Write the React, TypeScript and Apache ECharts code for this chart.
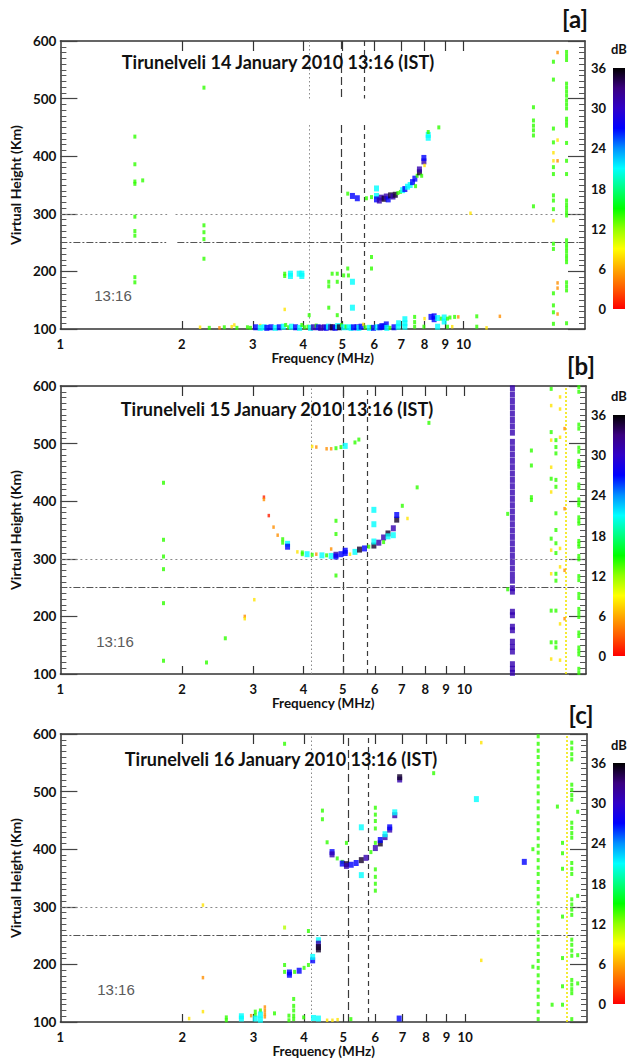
import React, { useEffect, useRef } from 'react';
import * as echarts from 'echarts';

type Pt = [number, number, number];

// dB levels used for the echo colours
const R = 1, O = 5, Y = 8, YG = 11, G = 14, C = 21, B = 27, P = 31, K = 35;

const col = (f: number, db: number, hs: number[]): Pt[] => hs.map((h) => [f, h, db] as Pt);

// ---------- tick labels / scales ----------
const freqLabels = [1, 2, 3, 4, 5, 6, 7, 8, 9, 10];
const freqTickMarks = [2, 3, 4, 5, 6, 7, 8, 9, 10];
const freqMax = 20;
const heightMin = 100;
const heightMax = 600;
const dbMax = 36;
const dbColors = ['#ff0000', '#ff5a00', '#ffaa00', '#ffff00', '#90ff00', '#00ff00', '#00ff80', '#00ffff', '#0090ff', '#0000ff', '#3000c8', '#3a0080', '#000000'];

const titles = [
  'Tirunelveli 14 January 2010 13:16 (IST)',
  'Tirunelveli 15 January 2010 13:16 (IST)',
  'Tirunelveli 16 January 2010 13:16 (IST)',
];
const letters = ['[a]', '[b]', '[c]'];
const timeLabel = '13:16';

// vertical reference frequencies (dotted, long dash, short dash)
const aRefFreq = [4.14, 4.97, 5.66];
const bRefFreq = [4.18, 5.04, 5.71];
const cRefFreq = [4.2, 5.07, 5.76];
const refHeights = [300, 250];
const bYellowFreq = 17.7;
const cYellowFreq = 17.93;

// ---------- panel a ----------
const aCols: Pt[] = [
  ...col(1.53, G, [434, 386, 356, 352, 295, 270, 262, 190, 181]),
  [1.6, 358, G],
  ...col(2.27, G, [519, 280, 268, 256, 222]),
];
const aLowBand: Pt[] = [
  [2.22, 103, Y], [2.34, 102, G], [2.48, 102, O], [2.55, 103, G], [2.66, 104, Y], [2.7, 107, Y], [2.74, 102, G], [2.91, 103, G], [2.96, 102, G], [3.05, 103, B],
  [3.13, 106, Y], [3.13, 102, C], [3.2, 103, C], [3.25, 102, B], [3.33, 103, B], [3.41, 102, C], [3.49, 103, B], [3.57, 104, C], [3.62, 107, G], [3.68, 103, G],
  [3.74, 104, C], [3.83, 103, B], [3.92, 102, C], [3.97, 107, G], [4.03, 103, G], [4.11, 104, G], [4.17, 102, C], [4.24, 103, P], [4.31, 106, G], [4.36, 103, B],
  [4.42, 102, P], [4.51, 103, P], [4.56, 102, B], [4.62, 104, C], [4.68, 103, P], [4.73, 103, K], [4.8, 102, B], [4.87, 105, C], [4.92, 103, K], [4.98, 107, G],
  [5.04, 103, C], [5.11, 104, G], [5.19, 103, C], [5.26, 102, C], [5.33, 103, B], [5.44, 103, B], [5.5, 102, C], [5.57, 104, B], [5.64, 108, Y], [5.7, 103, G],
  [5.84, 102, C], [5.9, 103, G], [5.98, 102, B], [6.1, 103, C], [6.2, 103, B], [6.27, 105, B], [6.35, 104, B], [6.43, 108, B], [6.45, 102, C], [6.57, 102, G],
  [6.72, 103, B], [6.88, 104, C], [6.9, 110, C], [7.15, 104, C], [7.15, 110, C], [7.15, 117, C], [7.56, 104, G], [7.56, 112, G], [7.56, 121, G], [7.97, 104, G],
  [8.0, 118, Y], [8.3, 121, B], [8.45, 122, B], [8.45, 117, B], [8.62, 119, C], [8.62, 104, C], [8.8, 118, G], [8.95, 120, C], [8.95, 113, C], [9.12, 118, G],
  [9.12, 104, G], [9.25, 120, G], [9.37, 104, Y], [9.5, 121, G], [9.7, 121, O], [10.78, 122, G], [10.78, 104, G], [11.4, 102, Y], [12.3, 122, O],
];
const aEregion: Pt[] = [
  [3.6, 196, G], [3.6, 192, G], [3.72, 196, C], [3.72, 192, C], [3.91, 196, C], [3.97, 196, C], [3.97, 192, C], [4.72, 196, G], [4.86, 196, G], [5.04, 193, G],
  [5.16, 205, G], [5.18, 193, G], [4.63, 182, G], [4.63, 174, G], [4.86, 182, G], [5.3, 182, C], [4.63, 137, G], [5.3, 137, C], [3.6, 134, Y], [5.91, 225, G],
  [5.91, 205, G], [4.14, 124, G], [4.86, 124, G],
];
const aFtrace: Pt[] = [
  [5.16, 335, G], [5.3, 331, B], [5.45, 327, B], [5.74, 327, G], [5.91, 329, G], [6.08, 344, C], [6.08, 331, C], [6.08, 325, B], [6.18, 323, P], [6.25, 328, P],
  [6.35, 326, K], [6.43, 330, P], [6.5, 325, B], [6.59, 332, K], [6.68, 330, P], [6.77, 333, K], [6.87, 336, G], [6.97, 338, G], [7.06, 341, C], [7.15, 343, B],
  [7.26, 347, C], [7.37, 350, C], [7.47, 355, B], [7.57, 361, B], [7.6, 348, G], [7.67, 366, G], [7.77, 372, K], [7.77, 377, P], [7.87, 366, G], [7.97, 391, P],
  [7.97, 397, B], [8.0, 384, Y], [8.17, 432, C], [8.17, 437, C], [8.17, 442, G], [8.68, 450, G],
];
const aRight: Pt[] = [
  ...col(14.9, G, [485, 462, 453, 445, 436, 313]),
  ...col(16.7, G, [564, 533, 448, 424, 381, 369, 332, 323, 308, 248, 239, 162, 141, 129, 109]),
  ...col(16.7, Y, [406, 392, 288]),
  ...col(17.1, O, [580, 392, 180, 171, 126]),
  [17.1, 428, Y],
  ...col(18.0, G, [581, 574, 567, 526, 519, 512, 505, 497, 490, 483, 465, 459, 453, 423, 392, 369, 323, 316, 310, 303, 297, 254, 247, 241, 235, 228, 222, 216, 181, 174, 167, 110]),
  [10.4, 301, Y],
];

// ---------- panel b ----------
const bLow: Pt[] = [
  ...col(1.8, G, [432, 333, 304, 282, 223, 123]),
  [2.3, 120, G], [2.56, 162, G], [2.86, 200, O], [2.86, 196, Y], [3.02, 229, Y], [3.19, 407, R], [3.19, 403, O], [3.28, 375, R],
];
const bTrace: Pt[] = [
  [3.37, 355, O], [3.45, 341, O], [3.55, 334, G], [3.55, 328, G], [3.65, 326, C], [3.65, 321, B], [3.86, 312, Y], [3.97, 311, G], [3.97, 308, G], [4.08, 308, C],
  [4.2, 307, G], [4.3, 308, O], [4.44, 306, C], [4.56, 306, G], [4.68, 317, O], [4.68, 305, C], [4.81, 307, P], [4.81, 304, B], [4.95, 308, B], [5.07, 310, B],
  [5.07, 314, B], [5.21, 308, Y], [5.36, 312, C], [5.5, 316, K], [5.66, 318, B], [5.8, 321, G], [5.97, 323, K], [5.97, 330, C], [6.14, 328, P], [6.31, 337, P],
  [6.31, 329, G], [6.47, 344, K], [6.47, 339, C], [6.67, 353, P], [6.67, 341, C], [6.8, 368, K], [6.8, 376, B], [7.02, 392, G], [7.23, 370, Y], [7.64, 424, G],
  [5.97, 385, C], [5.97, 360, C], [4.81, 366, G], [4.81, 343, G], [4.81, 271, G],
];
const bUpper: Pt[] = [
  [4.2, 495, Y], [4.3, 494, O], [4.56, 491, O], [4.68, 491, O], [4.81, 492, G], [4.95, 494, G], [5.07, 496, C], [5.36, 502, G], [5.48, 507, G], [8.17, 536, G],
];
const bRight: Pt[] = [
  ...col(13.15, P, [596, 585, 574, 563, 552, 541, 530, 519, 503, 492, 481, 470, 459, 448, 437, 426, 415, 404, 393, 382, 371, 360, 349, 338, 327, 316, 305, 294, 283, 272, 262, 249, 243, 208, 202, 182, 176, 156, 147, 139, 117, 109, 102]),
  [12.8, 378, G], [12.8, 247, G],
  ...col(14.65, G, [488, 462, 407, 402]),
  ...col(16.4, G, [595, 520, 439, 335, 210, 155]),
  ...col(16.4, Y, [566, 506, 459, 416, 315, 274, 126]),
  ...col(16.85, G, [506, 494, 483, 437, 425, 379, 350, 327, 310, 274, 262, 210, 155, 146]),
  ...col(17.25, Y, [581, 560, 511, 318, 286, 187, 124]),
  ...col(17.7, O, [526, 387, 280, 196]),
  ...col(19.2, G, [598, 590, 533, 526, 493, 486, 470, 465, 460, 429, 423, 403, 397, 393, 372, 366, 361, 331, 326, 321, 305, 299, 270, 263, 239, 232, 213, 206, 199, 172, 166, 146, 140, 134, 109, 102]),
];

// ---------- panel c ----------
const cLow: Pt[] = [
  [2.08, 106, Y], [2.25, 118, Y], [2.25, 177, O], [2.25, 303, Y], [2.57, 103, G], [2.57, 108, G], [2.8, 110, C], [2.8, 106, C], [2.96, 111, O], [3.03, 118, G],
  [3.03, 112, G], [3.03, 106, C], [3.12, 120, G], [3.12, 113, C], [3.12, 104, C], [3.2, 126, O], [3.2, 120, O], [3.2, 114, O], [3.2, 109, O], [3.38, 115, G],
  [3.77, 140, G], [3.77, 128, G], [3.77, 120, G], [3.77, 111, G], [3.77, 105, G], [3.67, 111, G], [3.67, 103, G], [3.99, 108, G], [4.22, 107, C], [4.34, 106, C],
  [4.56, 103, Y], [4.7, 103, Y], [4.84, 104, Y], [5.22, 105, G], [6.87, 106, B],
];
const cEregion: Pt[] = [
  [3.58, 583, G], [3.58, 264, YG], [4.1, 258, G], [3.58, 199, G], [3.58, 187, G], [3.68, 182, B], [3.68, 186, B], [3.79, 187, G], [3.89, 189, B], [4.0, 194, G],
  [4.1, 199, G], [4.2, 207, B], [4.2, 213, C], [4.34, 242, C], [4.34, 236, P], [4.34, 230, K], [4.34, 226, K],
];
const cFtrace: Pt[] = [
  [4.44, 467, G], [4.44, 452, G], [4.56, 412, G], [4.69, 395, B], [4.69, 391, P], [4.83, 384, G], [4.97, 378, G], [4.97, 375, B], [5.09, 374, K], [5.09, 371, P],
  [5.09, 411, G], [5.23, 373, B], [5.38, 376, B], [5.54, 381, K], [5.54, 438, C], [5.54, 355, C], [5.69, 385, P], [5.85, 395, G], [6.0, 402, P], [6.0, 411, G],
  [6.17, 410, K], [6.17, 416, B], [6.34, 421, P], [6.34, 426, C], [6.51, 434, P], [6.51, 438, B], [6.7, 459, P], [6.7, 464, C], [6.89, 521, P], [6.89, 525, K],
  ...col(6.0, G, [472, 460, 449, 436, 365, 352, 340, 328]),
  [10.66, 487, C], [10.96, 585, Y], [10.96, 207, Y], [8.36, 532, G],
];
const cRight: Pt[] = [
  [14.0, 378, B], [14.7, 400, G], [14.7, 196, G],
  ...col(15.15, G, [596, 583, 571, 560, 548, 535, 523, 509, 497, 483, 471, 457, 445, 433, 419, 406, 394, 381, 368, 357, 343, 331, 318, 306, 292, 280, 268, 256, 243, 231, 218, 206, 194, 181, 169, 156, 144, 131, 118, 105]),
  [16.4, 130, G], [16.9, 474, G],
  ...col(17.4, G, [411, 393, 366, 283, 211, 162, 130]),
  ...col(18.34, G, [585, 575, 565, 556, 512, 503, 494, 486, 446, 437, 428, 420, 376, 366, 357, 313, 304, 295, 286, 243, 234, 224, 215, 173, 165, 157, 150, 105]),
  ...col(18.97, G, [465, 319, 216, 167]),
];

const panels = [
  { pts: [...aCols, ...aLowBand, ...aEregion, ...aFtrace, ...aRight], ref: aRefFreq, yellow: null as number | null },
  { pts: [...bLow, ...bTrace, ...bUpper, ...bRight], ref: bRefFreq, yellow: bYellowFreq },
  { pts: [...cLow, ...cEregion, ...cFtrace, ...cRight], ref: cRefFreq, yellow: cYellowFreq },
];

// ---------- layout ----------
const gridBoxes = [
  { top: 41, height: 288, width: 535 },
  { top: 386, height: 288, width: 536 },
  { top: 734, height: 288, width: 537 },
];
const cbTops = [68, 415, 763];
const titlePos = [[278, 62], [277, 409], [281, 759]];
const timePos = [[113, 295], [115, 641], [116, 989]];
const letterPos = [[575, 18], [581, 365], [581, 714]];
const dbPos = [[619, 49], [619, 396], [619, 745]];

const L = Math.log10;
const FONT = 'Lato';

function symSize(v: number[]) {
  const d = v[2];
  if (d >= 19) return [5, 6];
  if (d >= 10) return [3, 4];
  return [2.5, 3.5];
}

function refMarkLines(i: number, ref: number[], yellow: number | null) {
  const dotted = { type: [1.5, 2.5], color: '#8a8a8a', width: 1 };
  const longDash = { type: [8, 4], color: '#3a3a3a', width: 1.2 };
  const shortDash = { type: [5, 4], color: '#3a3a3a', width: 1.2 };
  const hDot = { type: [2, 3], color: '#888', width: 1 };
  const hDashDot = { type: [7, 2, 2, 2], color: '#555', width: 1 };
  const data: any[] = [];
  if (i === 0) {
    const styles = [dotted, longDash, shortDash];
    ref.forEach((f, k) => {
      data.push([{ coord: [L(f), 600], lineStyle: styles[k] }, { coord: [L(f), 500] }]);
      data.push([{ coord: [L(f), 454], lineStyle: styles[k] }, { coord: [L(f), 100] }]);
    });
    data.push([{ coord: [0, 300], lineStyle: hDot }, { coord: [L(1.84), 300] }]);
    data.push([{ coord: [L(1.93), 300], lineStyle: hDot }, { coord: [L(freqMax), 300] }]);
    data.push([{ coord: [0, 250], lineStyle: hDashDot }, { coord: [L(1.83), 250] }]);
    data.push([{ coord: [L(1.95), 250], lineStyle: hDashDot }, { coord: [L(freqMax), 250] }]);
  } else {
    data.push({ xAxis: L(ref[0]), lineStyle: dotted });
    data.push({ xAxis: L(ref[1]), lineStyle: longDash });
    data.push({ xAxis: L(ref[2]), lineStyle: shortDash });
    data.push({ yAxis: refHeights[0], lineStyle: hDot });
    data.push({ yAxis: refHeights[1], lineStyle: hDashDot });
    if (yellow) data.push({ xAxis: L(yellow), lineStyle: { type: [2, 2], color: '#f2e600', width: 1.6 } });
  }
  return { silent: true, symbol: ['none', 'none'], label: { show: false }, z: 1, animation: false, data };
}

function buildOption() {
  const grid: any[] = [];
  const xAxis: any[] = [];
  const yAxis: any[] = [];
  const series: any[] = [];
  const graphic: any[] = [];
  const axisLine = { show: true, onZero: false, lineStyle: { color: '#333', width: 1.5 } };
  const labelStyle = { fontFamily: FONT, fontWeight: 'bold', fontSize: 13, color: '#111' };

  gridBoxes.forEach((g) => {
    grid.push({ left: 50, top: g.top, width: g.width, height: g.height });
  });
  cbTops.forEach((t) => grid.push({ left: 613, top: t, width: 12, height: 241 }));

  for (let i = 0; i < 3; i++) {
    xAxis.push({
      type: 'value', gridIndex: i, min: 0, max: L(freqMax), position: 'bottom',
      name: 'Frequency (MHz)', nameLocation: 'middle', nameGap: 21,
      nameTextStyle: { fontFamily: FONT, fontWeight: 'bold', fontSize: 13.5, color: '#111' },
      axisLine,
      axisTick: { show: true, inside: true, length: 8, customValues: freqTickMarks.map(L), lineStyle: { color: '#333', width: 1.2 } },
      axisLabel: { ...labelStyle, margin: 8, customValues: freqLabels.map(L), formatter: (v: number) => String(Math.round(Math.pow(10, v))) },
      splitLine: { show: false },
    });
    xAxis.push({
      type: 'value', gridIndex: i, min: 0, max: L(freqMax), position: 'top',
      axisLine,
      axisTick: { show: true, inside: true, length: 10, customValues: freqTickMarks.map(L), lineStyle: { color: '#333', width: 1.2 } },
      axisLabel: { show: false },
      splitLine: { show: false },
    });
  }
  for (let i = 0; i < 3; i++) {
    xAxis.push({ type: 'category', gridIndex: 3 + i, data: ['dB'], show: false });
  }

  for (let i = 0; i < 3; i++) {
    const common = {
      type: 'value', gridIndex: i, min: heightMin, max: heightMax, interval: 100,
      axisLine,
      axisTick: { show: true, inside: true, length: 17, lineStyle: { color: '#444', width: 1.2 } },
      minorTick: { show: true, splitNumber: 10, length: 6, lineStyle: { color: '#555', width: 1 } },
      splitLine: { show: false }, minorSplitLine: { show: false },
    };
    yAxis.push({
      ...common, position: 'left',
      name: 'Virtual Height (Km)', nameLocation: 'middle', nameGap: 36,
      nameTextStyle: { fontFamily: FONT, fontWeight: 'bold', fontSize: 14, color: '#111' },
      axisLabel: { ...labelStyle, fontSize: 13.5, margin: 4 },
    });
    yAxis.push({ ...common, position: 'right', axisLabel: { show: false } });
  }
  for (let i = 0; i < 3; i++) {
    yAxis.push({
      type: 'value', gridIndex: 3 + i, min: 0, max: dbMax, interval: 6, position: 'left',
      axisLine: { show: false }, axisTick: { show: false }, splitLine: { show: false },
      axisLabel: { ...labelStyle, margin: 7 },
    });
  }

  panels.forEach((p, i) => {
    series.push({
      type: 'scatter', xAxisIndex: 2 * i, yAxisIndex: 2 * i, symbol: 'rect',
      symbolSize: symSize, silent: true, z: 3,
      data: p.pts.map(([f, h, d]) => [L(f), h, d]),
      markLine: refMarkLines(i, p.ref, p.yellow),
    });
  });

  const gradient = {
    type: 'linear', x: 0, y: 1, x2: 0, y2: 0,
    colorStops: dbColors.map((c, k) => ({ offset: k / (dbColors.length - 1), color: c })),
  };
  for (let i = 0; i < 3; i++) {
    series.push({
      type: 'bar', xAxisIndex: 6 + i, yAxisIndex: 6 + i, data: [dbMax], barWidth: '100%',
      itemStyle: { color: gradient }, silent: true,
    });
  }

  for (let i = 0; i < 3; i++) {
    graphic.push({ type: 'text', x: titlePos[i][0], y: titlePos[i][1], z: 10, style: { text: titles[i], font: `bold 18px ${FONT}`, fill: '#111', align: 'center', verticalAlign: 'middle' } });
    graphic.push({ type: 'text', x: timePos[i][0], y: timePos[i][1], z: 10, style: { text: timeLabel, font: '15px "Liberation Sans"', fill: '#5a5a5a', align: 'center', verticalAlign: 'middle' } });
    graphic.push({ type: 'text', x: letterPos[i][0], y: letterPos[i][1], z: 10, style: { text: letters[i], font: `bold 24px ${FONT}`, fill: '#111', align: 'center', verticalAlign: 'middle' } });
    graphic.push({ type: 'text', x: dbPos[i][0], y: dbPos[i][1], z: 10, style: { text: 'dB', font: `bold 13px ${FONT}`, fill: '#111', align: 'center', verticalAlign: 'middle' } });
  }

  return {
    animation: false,
    backgroundColor: '#ffffff',
    textStyle: { fontFamily: FONT },
    grid, xAxis, yAxis, series, graphic,
    visualMap: {
      type: 'continuous', show: false, min: 0, max: dbMax, dimension: 2, seriesIndex: [0, 1, 2],
      inRange: { color: dbColors },
    },
  };
}

export default function App() {
  const ref = useRef<HTMLDivElement>(null);
  useEffect(() => {
    document.body.style.margin = '0';
    if (!ref.current) return;
    const chart = echarts.init(ref.current, null, { renderer: 'svg' });
    chart.setOption(buildOption() as any);
    return () => chart.dispose();
  }, []);
  return <div ref={ref} style={{ width: 627, height: 1062 }} />;
}
